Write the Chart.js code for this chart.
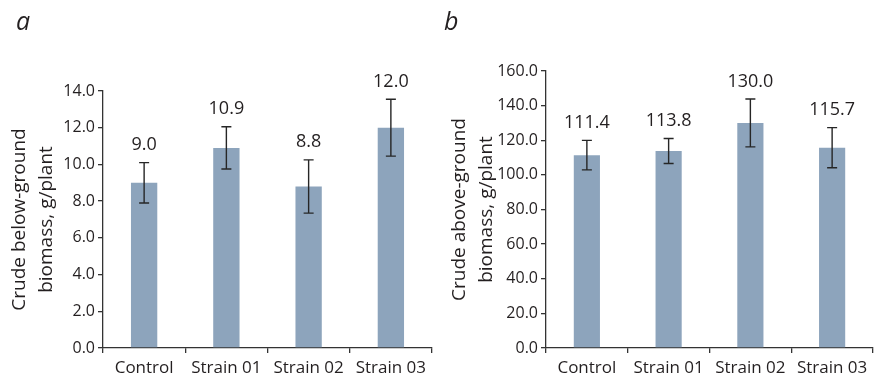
<!DOCTYPE html>
<html>
<head>
<meta charset="utf-8">
<script src="https://cdn.jsdelivr.net/npm/chart.js@4/dist/chart.umd.min.js"></script>
<style>
  body { margin: 0; background: #fff; }
  #wrap { position: relative; width: 883px; height: 380px; font-family: "Open Sans", sans-serif; color: #231f20; }
  .panel { position: absolute; top: 0; height: 380px; }
  .tag { position: absolute; top: 3px; font-size: 25px; font-style: italic; }
</style>
</head>
<body>
<div id="wrap">
  <div class="panel" style="left:0;width:440px"><canvas id="chartA"></canvas></div>
  <div class="panel" style="left:440px;width:443px"><canvas id="chartB"></canvas></div>
  <div class="tag" style="left:16px">a</div>
  <div class="tag" style="left:444px">b</div>
</div>
<script>
const categories = ["Control", "Strain 01", "Strain 02", "Strain 03"];

// panel a: below-ground biomass
const belowMeans = [9.0, 10.9, 8.8, 12.0];
const belowErrors = [1.1, 1.15, 1.45, 1.55];
const belowMax = 14;
const belowStep = 2;

// panel b: above-ground biomass
const aboveMeans = [111.4, 113.8, 130.0, 115.7];
const aboveErrors = [8.5, 7.2, 13.8, 11.6];
const aboveMax = 160;
const aboveStep = 20;

const ink = "#231f20";
const barColor = "#8da4bc";
const font = "'Open Sans', sans-serif";

// draws the error bars and the value labels over each bar
const errorBars = {
    id: "errorBars",
    afterDatasetsDraw(chart, args, opts) {
        const ctx = chart.ctx;
        const y = chart.scales.y;
        const meta = chart.getDatasetMeta(0);
        ctx.save();
        ctx.strokeStyle = "#262626";
        ctx.lineWidth = 1.4;
        meta.data.forEach((bar, i) => {
            const m = opts.means[i];
            const e = opts.errors[i];
            const top = y.getPixelForValue(m + e);
            const bot = y.getPixelForValue(m - e);
            ctx.beginPath();
            ctx.moveTo(bar.x, top);
            ctx.lineTo(bar.x, bot);
            ctx.moveTo(bar.x - 5, top);
            ctx.lineTo(bar.x + 5, top);
            ctx.moveTo(bar.x - 5, bot);
            ctx.lineTo(bar.x + 5, bot);
            ctx.stroke();
            ctx.fillStyle = ink;
            ctx.font = "18px " + font;
            ctx.textAlign = "center";
            ctx.textBaseline = "middle";
            ctx.fillText(m.toFixed(1), bar.x, top - 17.5);
        });
        ctx.restore();
    }
};

function makeChart(id, means, errors, max, step, title, pad, axisWidth) {
    return new Chart(document.getElementById(id), {
        type: "bar",
        data: {
            labels: categories,
            datasets: [{
                data: means,
                backgroundColor: barColor,
                barPercentage: 0.32,
                categoryPercentage: 1
            }]
        },
        options: {
            responsive: true,
            maintainAspectRatio: false,
            animation: false,
            layout: { padding: pad },
            plugins: {
                legend: { display: false },
                tooltip: { enabled: false },
                errorBars: { means: means, errors: errors }
            },
            scales: {
                x: {
                    border: { display: true, color: "#333", width: 1.3 },
                    grid: { offset: true, drawOnChartArea: false, drawTicks: true, tickLength: 5, color: "#333", lineWidth: 1.3 },
                    ticks: { color: ink, font: { family: font, size: 17 }, padding: 5, maxRotation: 0 },
                    afterFit: s => { s.height = 32; }
                },
                y: {
                    min: 0,
                    max: max,
                    border: { display: true, color: "#333", width: 1.3 },
                    grid: { drawOnChartArea: false, drawTicks: true, tickLength: 5, color: "#333", lineWidth: 1.3 },
                    ticks: {
                        stepSize: step,
                        color: ink,
                        font: { family: font, size: 16 },
                        padding: 3,
                        callback: v => v.toFixed(1)
                    },
                    title: {
                        display: true,
                        text: title,
                        color: ink,
                        font: { family: font, size: 19, lineHeight: 1.42 },
                        padding: { top: 6, bottom: 0 }
                    },
                    afterFit: s => { s.width = axisWidth; }
                }
            }
        },
        plugins: [errorBars]
    });
}

makeChart("chartA", belowMeans, belowErrors, belowMax, belowStep,
    ["Crude below-ground", "biomass, g/plant"],
    { left: 0, right: 8, top: 91, bottom: 0 }, 103);

makeChart("chartB", aboveMeans, aboveErrors, aboveMax, aboveStep,
    ["Crude above-ground", "biomass, g/plant"],
    { left: 0, right: 10, top: 71, bottom: 0 }, 106);
</script>
</body>
</html>
